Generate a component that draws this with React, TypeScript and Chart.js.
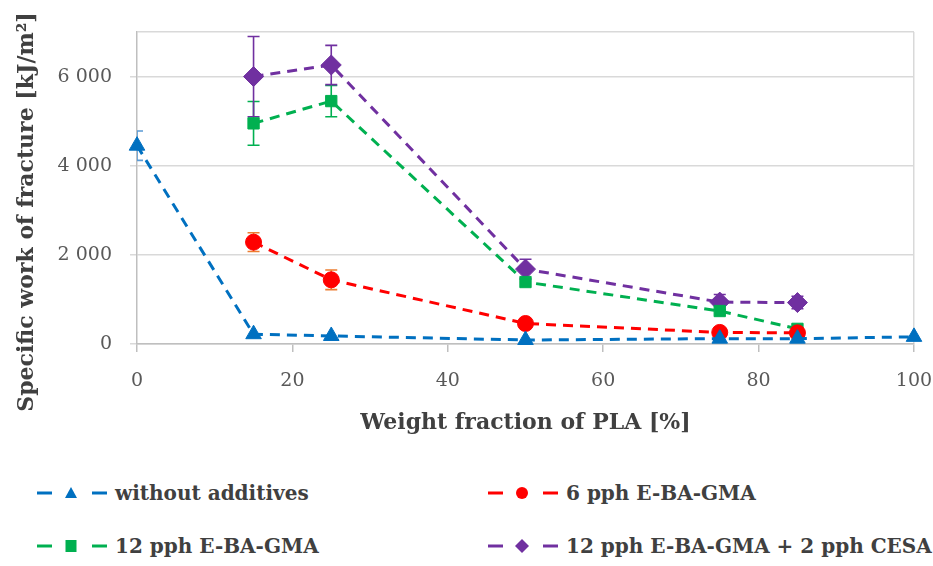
import React, { useEffect, useRef } from "react";
import { Chart, registerables } from "chart.js";

Chart.register(...registerables);

// ---- data ----
const xWithout = [0, 15, 25, 50, 75, 85, 100];
const yWithout = [4450, 220, 180, 90, 120, 120, 160];
const eWithout = [330, 0, 0, 0, 0, 0, 0];

const x6 = [15, 25, 50, 75, 85];
const y6 = [2285, 1440, 460, 260, 250];
const e6 = [210, 220, 0, 0, 0];

const x12 = [15, 25, 50, 75, 85];
const y12 = [4950, 5450, 1390, 740, 340];
const e12 = [490, 350, 0, 0, 0];

const x12c = [15, 25, 50, 75, 85];
const y12c = [6000, 6260, 1680, 940, 930];
const e12c = [900, 440, 220, 170, 140];

const seriesNames = [
  "without additives",
  "6 pph E-BA-GMA",
  "12 pph E-BA-GMA",
  "12 pph E-BA-GMA + 2 pph CESA",
];
const yTickValues = [0, 2000, 4000, 6000, 7000];
const xTitle = "Weight fraction of PLA [%]";
const yTitle = "Specific work of fracture [kJ/m²]";

const BLUE = "#0070C0";
const RED = "#FF0000";
const GREEN = "#00B050";
const PURPLE = "#7030A0";
const errColors = ["#5B9BD5", "#ED7D31", GREEN, PURPLE];

const FONT = "'DejaVu Serif', serif";

const toPts = (xs: number[], ys: number[]) => xs.map((x, i) => ({ x, y: ys[i] }));
const fmt = (v: number) => String(v).replace(/\B(?=(\d{3})+(?!\d))/g, " ");

const errorBarPlugin = {
  id: "errorBars",
  beforeDatasetsDraw(chart: any) {
    const { ctx, chartArea, scales } = chart;
    ctx.save();
    ctx.beginPath();
    ctx.rect(chartArea.left, chartArea.top - 20, chartArea.right - chartArea.left, chartArea.bottom - chartArea.top + 20);
    ctx.clip();
    chart.data.datasets.forEach((ds: any, di: number) => {
      const errs: number[] = ds.errors || [];
      ctx.strokeStyle = errColors[di];
      ctx.lineWidth = 1.6;
      ds.data.forEach((p: any, i: number) => {
        const e = errs[i];
        if (!e) return;
        const px = scales.x.getPixelForValue(p.x);
        const top = scales.y.getPixelForValue(p.y + e);
        const bot = scales.y.getPixelForValue(p.y - e);
        ctx.beginPath();
        ctx.moveTo(px, top);
        ctx.lineTo(px, bot);
        ctx.moveTo(px - 6, top);
        ctx.lineTo(px + 6, top);
        ctx.moveTo(px - 6, bot);
        ctx.lineTo(px + 6, bot);
        ctx.stroke();
      });
    });
    ctx.restore();
  },
};

const yTitlePlugin = {
  id: "yTitle",
  afterDraw(chart: any) {
    const { ctx } = chart;
    ctx.save();
    ctx.translate(27, 212);
    ctx.rotate(-Math.PI / 2);
    ctx.font = `bold 22px ${FONT}`;
    ctx.fillStyle = "#404040";
    ctx.textAlign = "center";
    ctx.textBaseline = "middle";
    ctx.fillText(yTitle, 0, 0);
    ctx.restore();
  },
};

const legendItems = [
  { name: seriesNames[0], color: BLUE, shape: "triangle", left: 37, top: 493 },
  { name: seriesNames[1], color: RED, shape: "circle", left: 488, top: 493 },
  { name: seriesNames[2], color: GREEN, shape: "rect", left: 37, top: 546 },
  { name: seriesNames[3], color: PURPLE, shape: "diamond", left: 488, top: 546 },
];

function Marker({ shape, color }: { shape: string; color: string }) {
  const cx = 34;
  const cy = 10;
  if (shape === "triangle")
    return <polygon points={`${cx},${cy - 6} ${cx + 6},${cy + 5} ${cx - 6},${cy + 5}`} fill={color} />;
  if (shape === "circle") return <circle cx={cx} cy={cy} r={6} fill={color} />;
  if (shape === "rect") return <rect x={cx - 5.5} y={cy - 6} width={11} height={12} fill={color} />;
  return <polygon points={`${cx},${cy - 7} ${cx + 7},${cy} ${cx},${cy + 7} ${cx - 7},${cy}`} fill={color} />;
}

export default function App() {
  const ref = useRef<HTMLCanvasElement>(null);

  useEffect(() => {
    document.body.style.margin = "0";
    const mk = (label: string, xs: number[], ys: number[], errs: number[], color: string, style: string, radius: number) => ({
      label,
      data: toPts(xs, ys),
      errors: errs,
      borderColor: color,
      backgroundColor: color,
      pointBackgroundColor: color,
      pointBorderColor: color,
      pointStyle: style,
      pointRadius: radius,
      pointBorderWidth: 1,
      borderWidth: 3,
      borderDash: [10, 7],
      tension: 0,
      clip: false as any,
    });
    const chart = new Chart(ref.current!, {
      type: "line",
      data: {
        datasets: [
          mk(seriesNames[0], xWithout, yWithout, eWithout, BLUE, "triangle", 9),
          mk(seriesNames[1], x6, y6, e6, RED, "circle", 8),
          mk(seriesNames[2], x12, y12, e12, GREEN, "rect", 8),
          mk(seriesNames[3], x12c, y12c, e12c, PURPLE, "rectRot", 10),
        ] as any,
      },
      options: {
        animation: false,
        responsive: false,
        devicePixelRatio: 1,
        layout: { padding: { top: 32, right: 19, left: 0, bottom: 0 } },
        plugins: { legend: { display: false }, tooltip: { enabled: false } },
        scales: {
          x: {
            type: "linear",
            min: 0,
            max: 100,
            ticks: { stepSize: 20, color: "#595959", font: { family: FONT, size: 19 }, padding: 18 },
            grid: {
              color: (c: any) => (c.tick && c.tick.value === 100 ? "#d9d9d9" : "rgba(0,0,0,0)"),
              tickColor: "#bfbfbf",
              tickLength: 8,
              lineWidth: 1.5,
            },
            border: { color: "#bfbfbf", width: 1.5 },
            title: {
              display: true,
              text: xTitle,
              color: "#404040",
              font: { family: FONT, size: 22, weight: "bold" },
              padding: { top: 0, bottom: 24 },
            },
            afterFit: (s: any) => {
              s.height = 116;
              s.paddingLeft = 0;
              s.paddingRight = 0;
            },
          },
          y: {
            type: "linear",
            min: 0,
            max: 7000,
            afterBuildTicks: (s: any) => {
              s.ticks = yTickValues.map((v) => ({ value: v }));
            },
            ticks: {
              color: "#595959",
              font: { family: FONT, size: 19 },
              padding: 18,
              callback: (v: any) => (v === 7000 ? "" : fmt(v)),
            },
            grid: {
              color: "#d9d9d9",
              lineWidth: 1.5,
              tickLength: 7,
              tickColor: (c: any) => (c.tick && c.tick.value === 7000 ? "rgba(0,0,0,0)" : "#d9d9d9"),
            },
            border: { color: "#bfbfbf", width: 1.5 },
            afterFit: (s: any) => {
              s.width = 137;
              s.paddingTop = 0;
              s.paddingBottom = 0;
            },
          },
        },
      },
      plugins: [errorBarPlugin, yTitlePlugin],
    });
    return () => chart.destroy();
  }, []);

  return (
    <div style={{ position: "relative", width: 933, height: 566, background: "#fff", overflow: "hidden" }}>
      <canvas ref={ref} width={933} height={460} style={{ position: "absolute", left: 0, top: 0 }} />
      {legendItems.map((it) => (
        <div
          key={it.name}
          style={{
            position: "absolute",
            left: it.left,
            top: it.top - 13,
            height: 26,
            display: "flex",
            alignItems: "center",
            whiteSpace: "nowrap",
          }}
        >
          <svg width={72} height={20} style={{ display: "block" }}>
            <line x1={0} y1={10} x2={15} y2={10} stroke={it.color} strokeWidth={3} />
            <line x1={55} y1={10} x2={70} y2={10} stroke={it.color} strokeWidth={3} />
            <Marker shape={it.shape} color={it.color} />
          </svg>
          <span
            style={{
              marginLeft: 6,
              fontFamily: FONT,
              fontWeight: "bold",
              fontSize: 20,
              color: "#404040",
            }}
          >
            {it.name}
          </span>
        </div>
      ))}
    </div>
  );
}
